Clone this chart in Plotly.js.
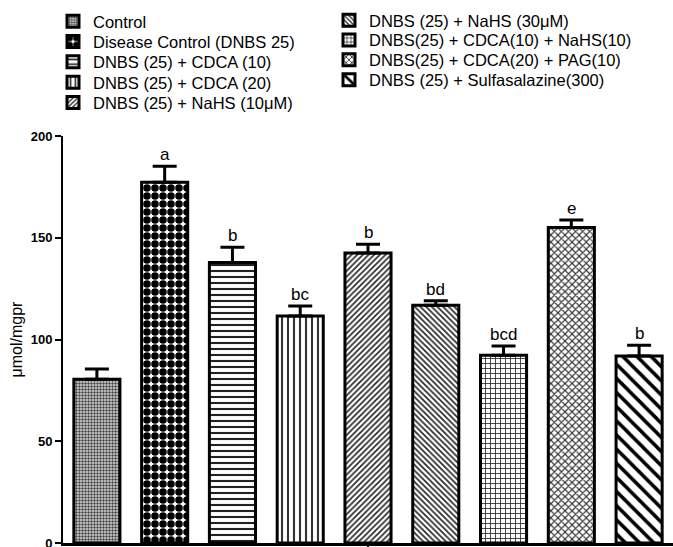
<!DOCTYPE html>
<html><head><meta charset="utf-8">
<script src="https://cdn.plot.ly/plotly-3.0.1.min.js"></script>
<style>html,body{margin:0;padding:0;background:#fff}</style>
</head><body><div id="chart" style="width:673px;height:547px"></div>
<script>
const categories = ["Control","Disease Control (DNBS 25)","DNBS (25) + CDCA (10)","DNBS (25) + CDCA (20)","DNBS (25) + NaHS (10\u03bcM)","DNBS (25) + NaHS (30\u03bcM)","DNBS(25) + CDCA(10) + NaHS(10)","DNBS(25) + CDCA(20) + PAG(10)","DNBS (25) + Sulfasalazine(300)"];
const values = [80.5, 177.3, 137.8, 111.5, 142.5, 116.8, 92.3, 155.0, 91.9];
const errors = [5.0, 7.8, 7.5, 5.0, 4.3, 2.2, 4.5, 3.7, 5.3];
const letters = ["", "a", "b", "bc", "b", "bd", "bcd", "e", "b"];
const yTitle = "\u03bcmol/mgpr";
const patterns = [
  {shape:".", size:3, solidity:0.5, fgcolor:"#444", bgcolor:"#ddd"},
  {shape:".", size:8, solidity:0.7, fgcolor:"#000", bgcolor:"#fff"},
  {shape:"-", size:6, solidity:0.35, fgcolor:"#222", bgcolor:"#fff"},
  {shape:"|", size:6, solidity:0.35, fgcolor:"#333", bgcolor:"#fff"},
  {shape:"/", size:4, solidity:0.4, fgcolor:"#222", bgcolor:"#fff"},
  {shape:"\\", size:4, solidity:0.4, fgcolor:"#222", bgcolor:"#fff"},
  {shape:"+", size:5, solidity:0.3, fgcolor:"#222", bgcolor:"#fff"},
  {shape:"x", size:5, solidity:0.4, fgcolor:"#333", bgcolor:"#fff"},
  {shape:"\\", size:10, solidity:0.35, fgcolor:"#000", bgcolor:"#fff"}
];
const FONT = "Arial, 'Liberation Sans', sans-serif";
const legendId = i => i === 0 ? "legend" : "legend" + (i + 1);
const traces = categories.map((c, i) => ({
  type: "bar", name: c, x: [i], y: [values[i]], width: 0.68,
  legend: legendId(i),
  marker: {color: "#fff", line: {color: "#000", width: 3}, pattern: patterns[i]},
  error_y: {type: "data", symmetric: false, array: [errors[i]], arrayminus: [0], color: "#000", thickness: 3, width: 12},
  showlegend: true, hoverinfo: "skip"
}));
const annotations = letters.map((t, i) => t ? ({
  x: i, y: values[i] + errors[i], xref: "x", yref: "y", text: t, showarrow: false,
  yanchor: "bottom", yshift: 0, font: {family: FONT, size: 17, color: "#000"}
}) : null).filter(a => a);
annotations.push({xref: "paper", yref: "paper", x: (16 - 63) / 610, y: 0.5, xanchor: "center", yanchor: "middle",
  text: yTitle, textangle: -90, showarrow: false, font: {family: FONT, size: 16, color: "#000"}});
const layout = {
  width: 673, height: 547, paper_bgcolor: "#fff", plot_bgcolor: "#fff",
  margin: {l: 63, r: 0, t: 136, b: 4, autoexpand: false},
  barmode: "overlay",
  font: {family: FONT, color: "#000"},
  xaxis: {range: [-0.5, 8.5], showgrid: false, zeroline: false, showline: true, linecolor: "#000", linewidth: 3,
    tickvals: [4], ticktext: [""], ticks: "outside", ticklen: 7, tickwidth: 2, tickcolor: "#000", fixedrange: true, automargin: false},
  yaxis: {range: [0, 200], showgrid: false, zeroline: false, showline: true, linecolor: "#000", linewidth: 2, automargin: false,
    tickvals: [0, 50, 100, 150, 200], ticks: "outside", ticklen: 6, tickwidth: 2, tickcolor: "#000", ticklabeloverflow: "allow",
    tickfont: {family: FONT, size: 13, weight: "bold", color: "#000"}},
  annotations: annotations,
  showlegend: true
};
categories.forEach((c, i) => {
  const left = i < 5;
  const row = left ? i : i - 5;
  const cy = left ? 21.5 + 20.3 * row : 20.5 + 19.8 * row;
  layout[legendId(i)] = {xref: "container", yref: "container", x: (left ? 53 : 329) / 673, y: 1 - cy / 547,
    xanchor: "left", yanchor: "middle", font: {family: FONT, size: 16.5, color: "#000"},
    bgcolor: "rgba(0,0,0,0)", tracegroupgap: 0, itemwidth: 30};
});
Plotly.newPlot("chart", traces, layout, {displayModeBar: false, staticPlot: true});
</script></body></html>
